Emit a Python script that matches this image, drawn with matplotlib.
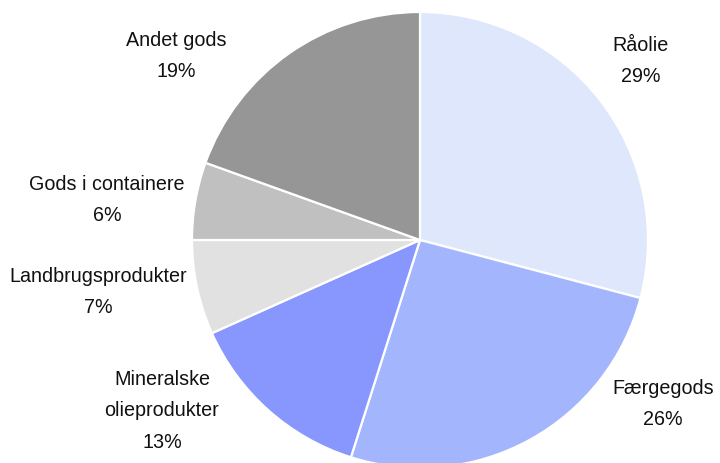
import matplotlib.pyplot as plt

labels = ["Råolie", "Færgegods", "Mineralske\nolieprodukter", "Landbrugsprodukter",
          "Gods i containere", "Andet gods"]
shares = [29.1, 25.8, 13.4, 6.7, 5.5, 19.5]
pct_labels = ["29%", "26%", "13%", "7%", "6%", "19%"]
colors = ["#dfe7fd", "#a3b5fd", "#8797fd", "#e1e1e1", "#c0c0c0", "#969696"]
# label block centres in pixels (x, y from top)
label_px = [(641, 61), (663, 404), (162, 411), (98, 292), (107, 200), (176, 56)]

plt.rcParams['font.family'] = ['Liberation Sans', 'DejaVu Sans']

W, H = 720, 463
cx, cy, r = 420, 240, 228
fig = plt.figure(figsize=(W / 100, H / 100), dpi=100)
ax = fig.add_axes([0, 0, 1, 1])
ax.axis('off')

ax.pie(shares, colors=colors, startangle=90, counterclock=False, radius=1,
       wedgeprops=dict(edgecolor='white', linewidth=1.6))
ax.set_xlim(-cx / r, (W - cx) / r)
ax.set_ylim(-(H - cy) / r, cy / r)

#labels with percentages
for lab, p, (px, py) in zip(labels, pct_labels, label_px):
    ax.text((px - cx) / r, (cy - py) / r, f"{lab}\n{p}", ha='center', va='center',
            fontsize=14.2, linespacing=1.85, color='#111111')

fig.savefig("out.png", dpi=100)
